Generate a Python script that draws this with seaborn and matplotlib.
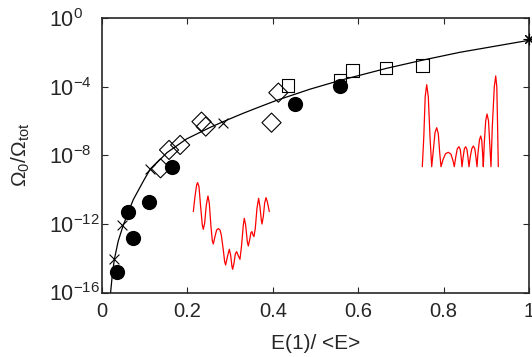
import numpy as np
import matplotlib
matplotlib.use("Agg")
import matplotlib.pyplot as plt
import seaborn as sns

# values; y values are given as log10(Omega_0/Omega_tot)
curve_x = [0.019, 0.024, 0.029, 0.038, 0.050, 0.073, 0.097, 0.112, 0.152, 0.198,
           0.253, 0.283, 0.331, 0.370, 0.409, 0.487, 0.557, 0.667, 0.752, 0.838, 1.0]
curve_logy = [-16.3, -15.0, -14.06, -13.0, -12.06, -10.6, -9.5, -8.85, -7.85, -7.05,
              -6.38, -6.05, -5.55, -5.17, -4.80, -4.15, -3.64, -2.93, -2.45, -2.0, -1.3]

circle_x = [0.036, 0.062, 0.073, 0.111, 0.165, 0.452, 0.557]
circle_logy = [-14.78, -11.32, -12.84, -10.70, -8.66, -5.03, -3.96]

cross_x = [0.029, 0.048, 0.112, 0.283]
cross_logy = [-14.06, -12.06, -8.80, -6.10]

diamond_x = [0.137, 0.157, 0.183, 0.233, 0.243, 0.397, 0.413]
diamond_logy = [-8.76, -7.69, -7.40, -6.04, -6.33, -6.10, -4.35]

square_x = [0.435, 0.557, 0.587, 0.665, 0.751]
square_logy = [-3.94, -3.61, -3.07, -2.90, -2.78]

star_x = [1.0]
star_logy = [-1.25]

x_ticks = [0, 0.2, 0.4, 0.6, 0.8, 1]
x_ticklabels = ["0", "0.2", "0.4", "0.6", "0.8", "1"]
y_ticks = [1e-16, 1e-12, 1e-8, 1e-4, 1e0]
y_ticklabels = [r"$10^{-16}$", r"$10^{-12}$", r"$10^{-8}$", r"$10^{-4}$", r"$10^{0}$"]

# small red wave insets (width in px, height in px above their lowest point)
wave1_x = [0, 1.67, 3.33, 4.33, 5.67, 7.33, 9.0, 10.0, 11.33, 13.0, 14.67, 16.0,
           17.67, 19.0, 20.0, 21.67, 23.33, 25.0, 26.67, 28.0, 30.0, 31.33, 32.33,
           34.0, 36.0, 37.33, 38.67, 39.33, 40.67, 42.0, 43.33, 44.67, 46.67, 48.33,
           50.0, 51.0, 52.33, 54.0, 55.0, 56.33, 57.67, 58.67, 59.67, 60.67, 62.0,
           63.67, 65.33, 66.67, 68.0, 68.67, 70.0, 71.33, 72.67, 74.0, 75.33, 76.0]
wave1_y = [57.7, 72.7, 84.3, 86.7, 82.7, 62.7, 44.3, 40.0, 46.0, 64.3, 73.3, 66.0,
           42.7, 28.7, 25.3, 32.7, 39.3, 40.7, 39.3, 34.3, 19.3, 7.7, 4.3,
           12.0, 20.0, 14.3, 2.7, 0, 6.0, 15.3, 17.7, 14.3, 10.0, 24.3,
           44.3, 51.0, 44.3, 27.7, 23.3, 29.3, 36.7, 37.7, 34.3, 32.7, 41.0,
           61.0, 71.0, 62.7, 49.3, 45.3, 52.7, 66.0, 71.7, 67.7, 61.0, 57.7]

wave2_x = [0, 1.5, 2.9, 4.4, 6.0, 7.7, 9.4,
           10.9, 12.7, 14.4, 16.0, 17.4, 18.7,
           20.7, 23.2, 26.0, 28.7, 30.7, 32.0,
           33.5, 35.0, 36.7, 38.0, 39.0, 39.7,
           40.9, 42.1, 43.4, 44.7, 45.7, 46.7,
           48.0, 49.5, 51.0, 52.5, 53.7, 54.7,
           55.7, 57.2, 58.4, 59.5, 60.3, 61.0,
           62.0, 63.4, 64.7, 66.2, 67.5, 68.7,
           70.0, 72.0, 73.4, 74.5, 75.3, 76.0]
wave2_y = [0, 30, 70, 82, 70, 30, 0,
           15, 34, 39, 33, 14, 0,
           7, 13, 14.4, 12.5, 6, 0,
           10, 18, 20, 17, 8, 0,
           10, 18, 20, 17, 9, 0,
           10, 18, 20.7, 18, 9, 0,
           14, 27, 30.7, 26, 13, 0,
           24, 46, 52.7, 46, 22, 0,
           40, 80, 90.7, 80, 40, 0]

sns.set_style("ticks")
plt.rcParams["font.family"] = ["Liberation Sans", "DejaVu Sans"]
plt.rcParams["mathtext.fontset"] = "custom"
plt.rcParams["mathtext.rm"] = "Liberation Sans"
plt.rcParams["mathtext.it"] = "Liberation Sans:italic"
plt.rcParams["mathtext.default"] = "regular"

W, H = 532, 357
fig = plt.figure(figsize=(W / 100, H / 100), dpi=100)
ax = fig.add_axes([102 / W, 1 - 292.5 / H, 427 / W, 274.5 / H])


def lin(v):
    return 10 ** np.array(v)


sns.lineplot(x=curve_x, y=lin(curve_logy), color="black", lw=0.9, ax=ax, sort=False)
sns.scatterplot(x=circle_x, y=lin(circle_logy), marker="o", color="black", s=120,
                linewidth=0, ax=ax, zorder=3)
sns.scatterplot(x=cross_x, y=lin(cross_logy), marker="x", color="black", s=50,
                linewidth=0.8, ax=ax, zorder=3)
sns.scatterplot(x=diamond_x, y=lin(diamond_logy), marker="D", facecolors="none",
                edgecolors="black", s=95, linewidth=0.8, ax=ax, zorder=3)
sns.scatterplot(x=square_x, y=lin(square_logy), marker="s", facecolors="none",
                edgecolors="black", s=80, linewidth=0.8, ax=ax, zorder=3)
sns.scatterplot(x=star_x, y=lin(star_logy), marker=(8, 2, 0), color="black", s=60,
                linewidth=0.8, ax=ax, zorder=3, clip_on=False)

ax.set_yscale("log")
ax.set_xlim(0, 1)
ax.set_ylim(1e-16, 1e0)
ax.set_xticks(x_ticks)
ax.set_xticklabels(x_ticklabels)
ax.set_yticks(y_ticks)
ax.set_yticklabels(y_ticklabels)
ax.minorticks_off()
ax.tick_params(direction="in", top=True, right=True, length=4, width=0.8)
ax.tick_params(axis="x", labelsize=14.5, pad=7)
ax.tick_params(axis="y", labelsize=15.5, pad=38)
for lbl in ax.get_yticklabels():
    lbl.set_horizontalalignment("left")
for s in ax.spines.values():
    s.set_linewidth(1.2)
ax.set_xlabel("E(1)/ <E>", fontsize=15, labelpad=9)
ax.set_ylabel(r"$\Omega_0/\Omega_{tot}$", fontsize=15)
ax.yaxis.set_label_coords(-0.163, 0.5)

# insets
ins1 = fig.add_axes([193.3 / W, 1 - 269.3 / H, 76 / W, 86.7 / H])
sns.lineplot(x=wave1_x, y=wave1_y, color="red", lw=0.9, ax=ins1, sort=False)
ins1.set_xlim(0, 76)
ins1.set_ylim(0, 86.7)
ins1.axis("off")

ins2 = fig.add_axes([422.3 / W, 1 - 166.7 / H, 76 / W, 90.7 / H])
sns.lineplot(x=wave2_x, y=wave2_y, color="red", lw=0.9, ax=ins2, sort=False)
ins2.set_xlim(0, 76)
ins2.set_ylim(0, 90.7)
ins2.axis("off")
for a in (ins1, ins2):
    for ln in a.lines:
        ln.set_clip_on(False)

fig.savefig("out.png", dpi=100)
